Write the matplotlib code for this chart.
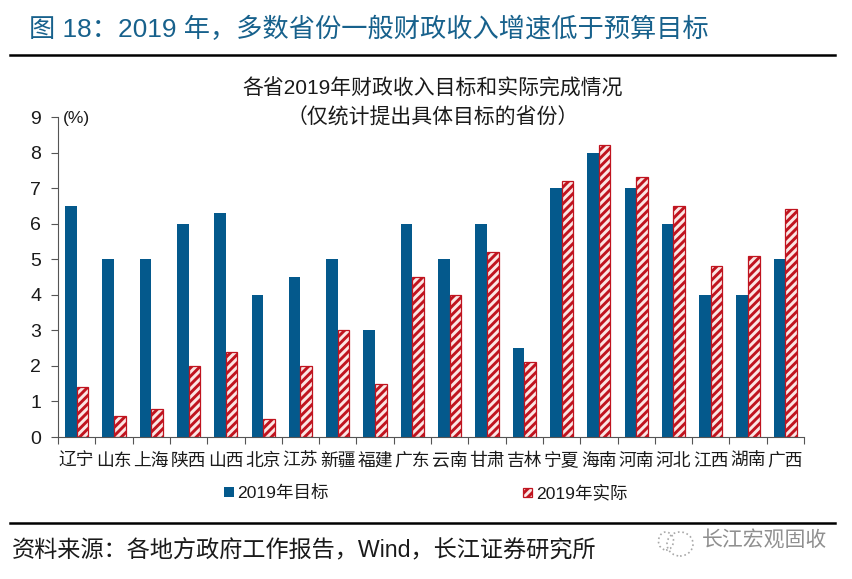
import matplotlib
matplotlib.use('Agg')
import matplotlib.pyplot as plt
import numpy as np
from matplotlib.patches import Ellipse

plt.rcParams['font.family'] = ['Liberation Sans', 'Noto Sans CJK SC', 'DejaVu Sans']
plt.rcParams['hatch.linewidth'] = 2.1

provinces = ['辽宁', '山东', '上海', '陕西', '山西', '北京', '江苏', '新疆', '福建', '广东', '云南',
             '甘肃', '吉林', '宁夏', '海南', '河南', '河北', '江西', '湖南', '广西']
target = [6.5, 5, 5, 6, 6.3, 4, 4.5, 5, 3, 6, 5, 6, 2.5, 7, 8, 7, 6, 4, 4, 5]
actual = [1.4, 0.6, 0.8, 2.0, 2.4, 0.5, 2.0, 3.0, 1.5, 4.5, 4.0, 5.2, 2.1, 7.2, 8.2, 7.3, 6.5, 4.8, 5.1, 6.4]
y_ticks = [0, 1, 2, 3, 4, 5, 6, 7, 8, 9]

W = 852
H = 579
BLUE = '#04598c'
RED = '#c0141f'
PINK = '#fbe6e4'


def px_x(x):
    return x / W


def px_y(y):
    return 1 - y / H


def main():
    fig = plt.figure(figsize=(W / 100, H / 100), dpi=100)
    ax = fig.add_axes([px_x(58), px_y(437), (804 - 58) / W, (437 - 117) / H])

    x = np.arange(len(provinces))
    bar_w = 0.31
    ax.bar(x - bar_w / 2, target, bar_w, color=BLUE, label='2019年目标')
    ax.bar(x + bar_w / 2, actual, bar_w, facecolor=PINK, edgecolor=RED, hatch='////',
           linewidth=0.9, label='2019年实际')

    ax.set_xlim(-0.5, len(provinces) - 0.5)
    ax.set_ylim(0, 9)
    ax.set_yticks(y_ticks)
    ax.set_xticks(np.append(x - 0.5, len(provinces) - 0.5))
    ax.set_xticklabels([''] * (len(provinces) + 1))
    for i, name in enumerate(provinces):
        ax.annotate(name, (i, 0), xytext=(0, -29), xycoords=('data', 'axes fraction'),
                    textcoords='offset pixels', ha='center', va='baseline', fontsize=12.8, color='#1a1a1a',
                    annotation_clip=False)

    ax.spines['top'].set_visible(False)
    ax.spines['right'].set_visible(False)
    ax.spines['left'].set_color('#555555')
    ax.spines['bottom'].set_color('#555555')
    ax.tick_params(axis='y', length=5, width=0.8, color='#555555', labelsize=14, pad=7, labelcolor='#1a1a1a')
    ax.tick_params(axis='x', length=5, width=0.8, color='#555555')

    fig.text(px_x(63), px_y(119), '(%)', fontsize=12.5, va='center', ha='left', color='#1a1a1a')
    fig.text(px_x(433), px_y(88), '各省2019年财政收入目标和实际完成情况', fontsize=15, ha='center', va='center',
             color='#1a1a1a')
    fig.text(px_x(433), px_y(117), '（仅统计提出具体目标的省份）', fontsize=15, ha='center', va='center',
             color='#1a1a1a')

    # header and footer
    fig.text(px_x(29), px_y(29), '图 18：2019 年，多数省份一般财政收入增速低于预算目标', fontsize=18.9,
             ha='left', va='center', color='#17618c')
    fig.add_artist(plt.Line2D([px_x(10), px_x(835)], [px_y(54.5), px_y(54.5)], color='black', lw=1.8))
    fig.add_artist(plt.Line2D([px_x(10), px_x(835)], [px_y(523), px_y(523)], color='black', lw=1.8))
    fig.text(px_x(12), px_y(550), '资料来源：各地方政府工作报告，Wind，长江证券研究所', fontsize=16.7,
             ha='left', va='center', color='#1a1a1a')

    # legend drawn by hand to sit at the reference spot
    fig.patches.append(plt.Rectangle((px_x(224), px_y(497)), 10 / W, 10 / H, transform=fig.transFigure,
                                     facecolor=BLUE, figure=fig))
    fig.patches.append(plt.Rectangle((px_x(523), px_y(497)), 9 / W, 9 / H, transform=fig.transFigure,
                                     facecolor=PINK, edgecolor=RED, hatch='////', linewidth=0.9, figure=fig))
    fig.text(px_x(237), px_y(493), '2019年目标', fontsize=12.6, ha='left', va='center', color='#1a1a1a')
    fig.text(px_x(536), px_y(493), '2019年实际', fontsize=12.6, ha='left', va='center', color='#1a1a1a')

    # watermark
    fig.text(px_x(702), px_y(541), '长江宏观固收', fontsize=15, ha='left', va='center', color='#8f8f8f')
    fig.add_artist(Ellipse((px_x(680), px_y(544)), 26 / W, 24 / H, transform=fig.transFigure, fill=False,
                           edgecolor='#a8a8a8', linestyle=':', lw=1.2))
    fig.add_artist(Ellipse((px_x(666), px_y(541)), 15 / W, 18 / H, transform=fig.transFigure, fill=False,
                           edgecolor='#a8a8a8', linestyle=':', lw=1.2))

    fig.savefig('out.png', dpi=100)


if __name__ == '__main__':
    main()
